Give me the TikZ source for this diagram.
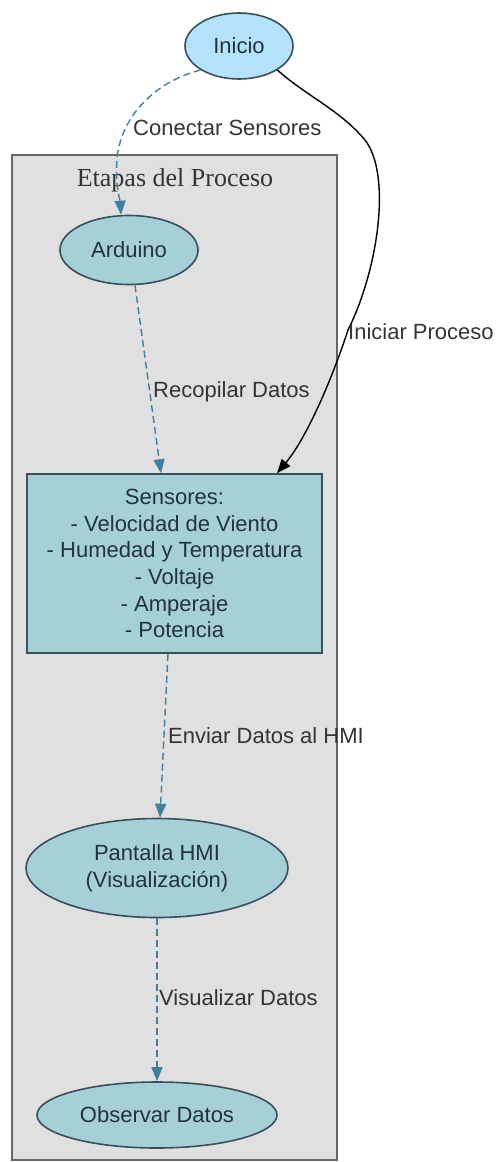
\documentclass[tikz,border=0pt]{standalone}
\usepackage{fontspec}
\setmainfont{Liberation Sans}
\newfontfamily\titlefont{Liberation Serif}
\usetikzlibrary{shapes.geometric,arrows.meta}
\definecolor{inifill}{HTML}{B3E3FA}
\definecolor{nodefill}{HTML}{A6D0D8}
\definecolor{clusterfill}{HTML}{E0E0E0}
\definecolor{clusterline}{HTML}{666666}
\definecolor{nodeline}{HTML}{3A4F5A}
\definecolor{edgeblue}{HTML}{3F7F9F}
\definecolor{txt}{HTML}{22323F}
\definecolor{lbl}{HTML}{333333}
\tikzset{
  ell/.style={ellipse, draw=nodeline, line width=1.6pt, fill=nodefill, inner sep=0pt, align=center, text=txt, font=\fontsize{22}{26.7}\selectfont},
  boxnode/.style={rectangle, draw=nodeline, line width=1.6pt, fill=nodefill, inner sep=0pt, align=center, text=txt, font=\fontsize{22}{26.7}\selectfont},
  dashedge/.style={draw=edgeblue, line width=1.4pt, dash pattern=on 7pt off 4pt, -{Triangle[length=14pt,width=11pt,fill=edgeblue]}},
  solidedge/.style={draw=black, line width=1.4pt, -{Triangle[length=14pt,width=11pt]}},
  elabel/.style={anchor=west, inner sep=0pt, text=lbl, font=\fontsize{22}{26.7}\selectfont}
}
\begin{document}
\begin{tikzpicture}[x=1pt,y=-1pt]
\useasboundingbox (0,0) rectangle (496,1162);
% cluster
\node[draw=clusterline, line width=1.6pt, fill=clusterfill, minimum width=325pt, minimum height=1005pt, inner sep=0pt] (cluster) at (174.5,657.5) {};
\node[text=lbl, font=\titlefont\fontsize{26}{30}\selectfont, inner sep=0pt] (title) at (175,180) {Etapas del Proceso};
% nodes
\node[ell, fill=inifill, minimum width=108pt, minimum height=66pt] (inicio) at (239,46) {Inicio};
\node[ell, minimum width=138pt, minimum height=69pt] (arduino) at (129,250) {Arduino};
\node[boxnode, minimum width=295pt, minimum height=179pt] (sensores) at (174.5,563.5) {Sensores:\\- Velocidad de Viento\\- Humedad y Temperatura\\- Voltaje\\- Amperaje\\- Potencia};
\node[ell, minimum width=262pt, minimum height=99pt] (pantalla) at (157,868) {Pantalla HMI\\(Visualización)};
\node[ell, minimum width=240pt, minimum height=66pt] (observar) at (157,1115) {Observar Datos};
% edges
\draw[dashedge] (inicio.212) .. controls (160,80) and (122,112) .. (117,158) .. controls (115,185) and (120,200) .. (arduino.north -| 121,0);
\node[elabel] (l1) at (133,128) {Conectar Sensores};
\coordinate (s1) at (365,140);
\coordinate (s2) at (348,330);
\draw[solidedge] (inicio.-32) .. controls (305,95) and (340,110) .. (s1) .. controls (392,175) and (378,270) .. (s2) .. controls (330,385) and (305,440) .. (sensores.north -| 277,0);
\node[elabel] (l2) at (348,332) {Iniciar Proceso};
\draw[dashedge] (arduino.south -| 135,0) -- (sensores.north -| 161,0);
\node[elabel] (l3) at (153,392) {Recopilar Datos};
\draw[dashedge] (sensores.south -| 168,0) -- (pantalla.north -| 160,0);
\node[elabel] (l4) at (168,736) {Enviar Datos al HMI};
\draw[dashedge] (pantalla.south) -- (observar.north);
\node[elabel] (l5) at (159,998) {Visualizar Datos};
\end{tikzpicture}
\end{document}
